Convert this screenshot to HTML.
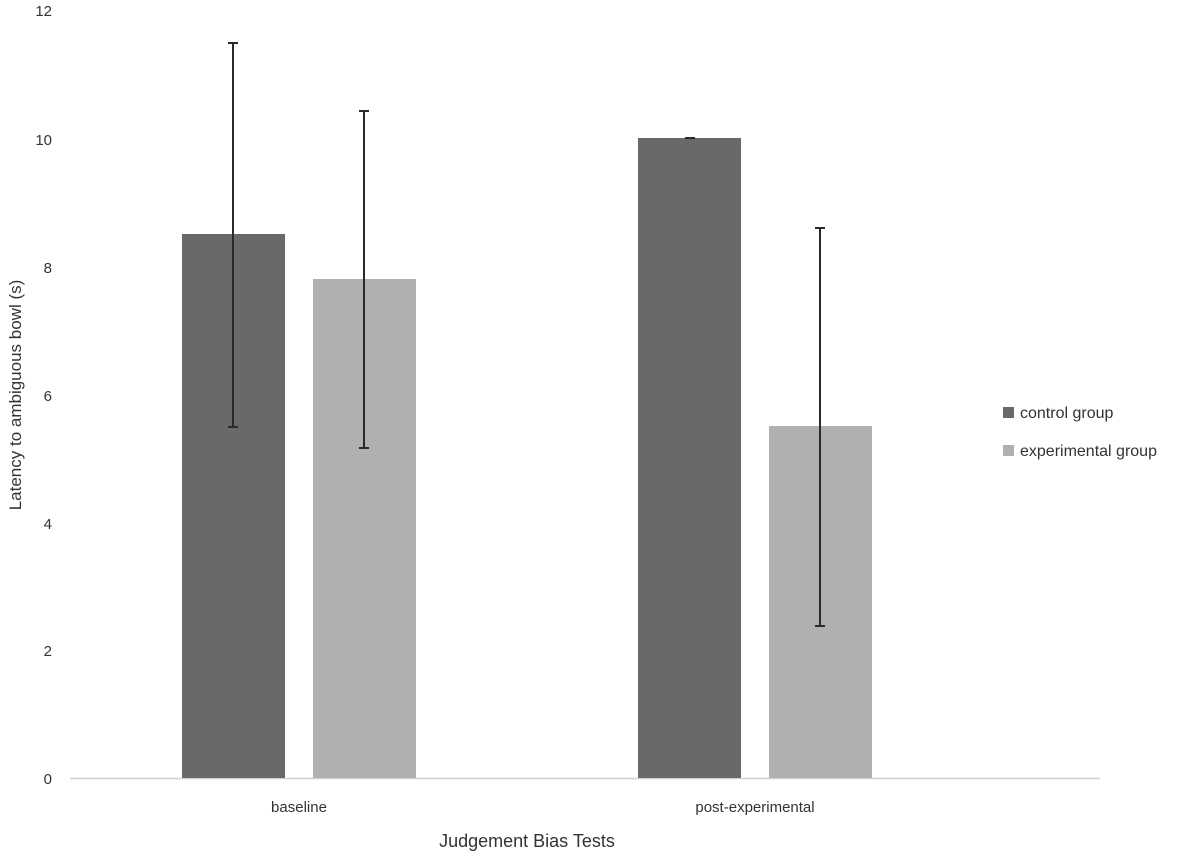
<!DOCTYPE html>
<html><head><meta charset="utf-8"><style>
html,body{margin:0;padding:0;background:#fff;}
svg{display:block;}
text{font-family:"Liberation Sans",sans-serif;fill:#333;}
</style></head><body>
<svg width="1200" height="855" viewBox="0 0 1200 855" xmlns="http://www.w3.org/2000/svg">
<g font-size="15" text-anchor="end">
<text x="52" y="784">0</text>
<text x="52" y="656">2</text>
<text x="52" y="529">4</text>
<text x="52" y="401">6</text>
<text x="52" y="273">8</text>
<text x="52" y="145">10</text>
<text x="52" y="16">12</text>
</g>
<line x1="70" y1="778.5" x2="1100" y2="778.5" stroke="#d0d0d0" stroke-width="1.5"/>
<rect x="182" y="234" width="103" height="544" fill="#696969"/>
<rect x="313" y="279" width="103" height="499" fill="#b0b0b0"/>
<rect x="638" y="138" width="103" height="640" fill="#696969"/>
<rect x="769" y="426" width="103" height="352" fill="#b0b0b0"/>
<g stroke="#2a2a2a" stroke-width="2">
<line x1="233" y1="43" x2="233" y2="427"/><line x1="228" y1="43" x2="238" y2="43"/><line x1="228" y1="427" x2="238" y2="427"/>
<line x1="364" y1="111" x2="364" y2="448"/><line x1="359" y1="111" x2="369" y2="111"/><line x1="359" y1="448" x2="369" y2="448"/>
<line x1="685" y1="138" x2="695" y2="138"/>
<line x1="820" y1="228" x2="820" y2="626"/><line x1="815" y1="228" x2="825" y2="228"/><line x1="815" y1="626" x2="825" y2="626"/>
</g>
<g font-size="15" text-anchor="middle">
<text x="299" y="812">baseline</text>
<text x="755" y="812">post-experimental</text>
</g>
<text x="527" y="847" font-size="18" text-anchor="middle">Judgement Bias Tests</text>
<text transform="translate(21,395) rotate(-90)" font-size="17" text-anchor="middle">Latency to ambiguous bowl (s)</text>
<rect x="1003" y="407" width="11" height="11" fill="#696969"/>
<text x="1020" y="418" font-size="16">control group</text>
<rect x="1003" y="445" width="11" height="11" fill="#b0b0b0"/>
<text x="1020" y="456" font-size="16">experimental group</text>
</svg>
</body></html>
